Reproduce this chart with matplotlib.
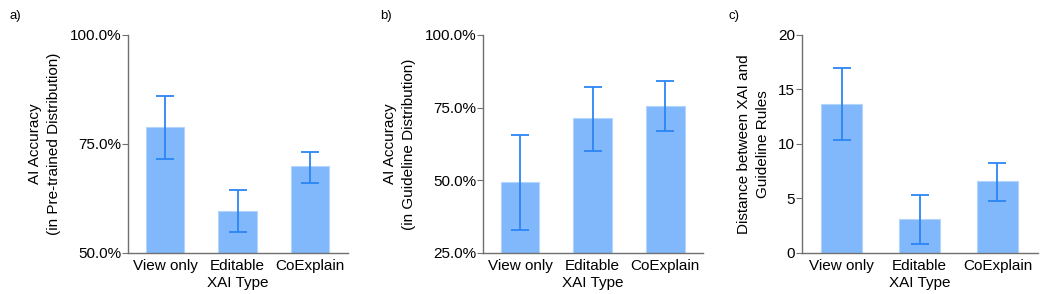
import numpy as np
import matplotlib
matplotlib.use("Agg")
import matplotlib.pyplot as plt
from matplotlib.ticker import PercentFormatter

plt.rcParams['font.family'] = ['Liberation Sans', 'DejaVu Sans']

categories = ["View only", "Editable", "CoExplain"]

# a) accuracy on pre-trained distribution (%)
acc_pre = [78.9, 59.7, 69.9]
acc_pre_lo = [71.6, 54.8, 66.1]
acc_pre_hi = [85.9, 64.5, 73.2]

# b) accuracy on guideline distribution (%)
acc_guide = [49.4, 71.3, 75.7]
acc_guide_lo = [33.0, 60.1, 67.0]
acc_guide_hi = [65.5, 82.2, 84.2]

# c) distance between XAI and guideline rules
dist = [13.7, 3.1, 6.6]
dist_lo = [10.4, 0.85, 4.8]
dist_hi = [17.0, 5.3, 8.3]

bar_color = "#80b8fb"
err_color = "#2b86f5"
spine_color = "#707070"
fs = 11


def draw_panel(ax, vals, lo, hi, ylim, yticks, ylabel, pct):
    x = np.arange(len(categories))
    vals = np.array(vals)
    yerr = [vals - np.array(lo), np.array(hi) - vals]
    ax.bar(x, vals, width=0.53, color=bar_color, edgecolor="#b3d4fd",
           linewidth=0.8)
    ax.errorbar(x, vals, yerr=yerr, fmt="none", ecolor=err_color,
                elinewidth=1.3, capsize=6.5, capthick=1.3)
    ax.set_xlim(-0.51, 2.52)
    ax.set_ylim(*ylim)
    ax.set_yticks(yticks)
    if pct:
        ax.yaxis.set_major_formatter(PercentFormatter(decimals=1))
    ax.set_xticks(x)
    ax.set_xticklabels(categories)
    ax.set_xlabel("XAI Type", fontsize=fs, labelpad=2.5)
    ax.set_ylabel(ylabel, fontsize=fs, labelpad=6, linespacing=1.45)
    for s in ["top", "right"]:
        ax.spines[s].set_visible(False)
    for s in ["left", "bottom"]:
        ax.spines[s].set_color(spine_color)
        ax.spines[s].set_linewidth(1.0)
    ax.tick_params(axis="y", length=4, color=spine_color, labelsize=fs, pad=1)
    ax.tick_params(axis="x", length=0, labelsize=fs, pad=4)


fig = plt.figure(figsize=(10.46, 2.94), dpi=100)
ax_a = fig.add_axes([0.1224, 0.1395, 0.2103, 0.7415])
ax_b = fig.add_axes([0.4618, 0.1395, 0.2103, 0.7415])
ax_c = fig.add_axes([0.7667, 0.1395, 0.2256, 0.7415])

draw_panel(ax_a, acc_pre, acc_pre_lo, acc_pre_hi, (50, 100), [50, 75, 100],
           "AI Accuracy\n(in Pre-trained Distribution)", True)
draw_panel(ax_b, acc_guide, acc_guide_lo, acc_guide_hi, (25, 100), [25, 50, 75, 100],
           "AI Accuracy\n(in Guideline Distribution)", True)
draw_panel(ax_c, dist, dist_lo, dist_hi, (0, 20), [0, 5, 10, 15, 20],
           "Distance between XAI and\nGuideline Rules", False)

fig.text(0.009, 0.935, "a)", fontsize=9.5)
fig.text(0.363, 0.935, "b)", fontsize=9.5)
fig.text(0.696, 0.935, "c)", fontsize=9.5)

fig.savefig("out.png", dpi=100)
